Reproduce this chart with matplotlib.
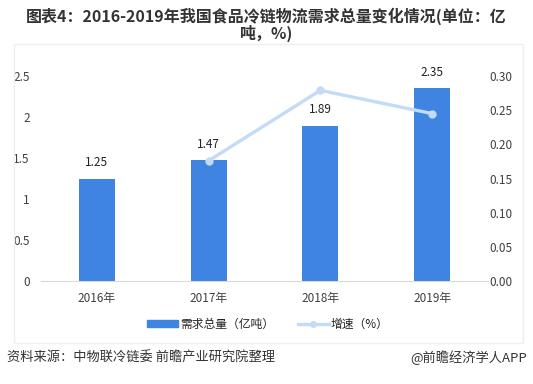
import matplotlib
matplotlib.use("Agg")
import matplotlib.pyplot as plt
from matplotlib.patches import Rectangle
from matplotlib.lines import Line2D
from matplotlib.patches import Patch

plt.rcParams["font.family"] = ["Noto Sans CJK SC", "DejaVu Sans"]

# 数据
years = ["2016年", "2017年", "2018年", "2019年"]
demand = [1.25, 1.47, 1.89, 2.35]          # 亿吨
growth_years = [1, 2, 3]                     # 2017-2019 的位置
growth = [0.176, 0.279, 0.245]               # 增速

BAR = "#3f84e0"
LINE = "#c3dbf7"
TXT = "#404040"

fig = plt.figure(figsize=(5.33, 3.84), dpi=100)
fig.patch.set_facecolor("white")

# 浅色外框
fig.add_artist(Rectangle((14 / 533, 1 - 343 / 384), 509 / 533, 343 / 384 - 44 / 384,
                         transform=fig.transFigure, fill=False,
                         ec="#eceff4", lw=1.0))

ax = fig.add_axes([41 / 533, 1 - 281 / 384, (488 - 41) / 533, (281 - 76) / 384])
x = list(range(len(years)))
ax.bar(x, demand, width=0.32, color=BAR, zorder=2)
for xi, v in zip(x, demand):
    ax.annotate(f"{v:.2f}", (xi, v), xytext=(0, 7), textcoords="offset points",
                ha="center", va="bottom", fontsize=8.5, color="#222222")
ax.set_xlim(-0.5, 3.5)
ax.set_ylim(0, 2.5)
ax.set_yticks([0, 0.5, 1, 1.5, 2, 2.5])
ax.set_yticklabels(["0", "0.5", "1", "1.5", "2", "2.5"])
ax.set_xticks(x)
ax.set_xticklabels(years)
for s in ["top", "right", "left"]:
    ax.spines[s].set_visible(False)
ax.spines["bottom"].set_color("#d9d9d9")
ax.tick_params(axis="both", length=0, labelsize=8.5, colors=TXT)
ax.tick_params(axis="y", pad=8)
ax.tick_params(axis="x", pad=8)

ax2 = ax.twinx()
ax2.plot(growth_years, growth, color=LINE, lw=2.4, marker="o", ms=5,
         zorder=3)
ax2.set_ylim(0, 0.30)
ax2.set_yticks([0, 0.05, 0.10, 0.15, 0.20, 0.25, 0.30])
ax2.set_yticklabels([f"{t:.2f}" for t in ax2.get_yticks()])
for s in ["top", "right", "left", "bottom"]:
    ax2.spines[s].set_visible(False)
ax2.tick_params(axis="y", length=0, labelsize=8.5, colors=TXT, pad=1)

handles = [Patch(color=BAR), Line2D([], [], color=LINE, lw=2.4, marker="o", ms=4)]
fig.legend(handles, ["需求总量（亿吨）", "增速（%）"], loc="center",
           bbox_to_anchor=(268 / 533, 1 - 324 / 384), ncol=2, frameon=False,
           fontsize=8.5, handlelength=2.6, handleheight=0.6, columnspacing=2.0,
           handletextpad=0.2, labelcolor="#222222")

fig.text(0.5, 1 - 16 / 384, "图表4：2016-2019年我国食品冷链物流需求总量变化情况(单位：亿",
         ha="center", va="center", fontsize=11.5, fontweight="bold", color="#333333")
fig.text(0.5, 1 - 33 / 384, "吨，%)", ha="center", va="center", fontsize=11.5,
         fontweight="bold", color="#333333")

fig.text(7 / 533, 1 - 358 / 384, "资料来源：中物联冷链委 前瞻产业研究院整理",
         ha="left", va="center", fontsize=9.5, color="#333333")
fig.text(527 / 533, 1 - 358 / 384, "@前瞻经济学人APP",
         ha="right", va="center", fontsize=9.5, color="#333333")

fig.savefig("out.png", dpi=100)
